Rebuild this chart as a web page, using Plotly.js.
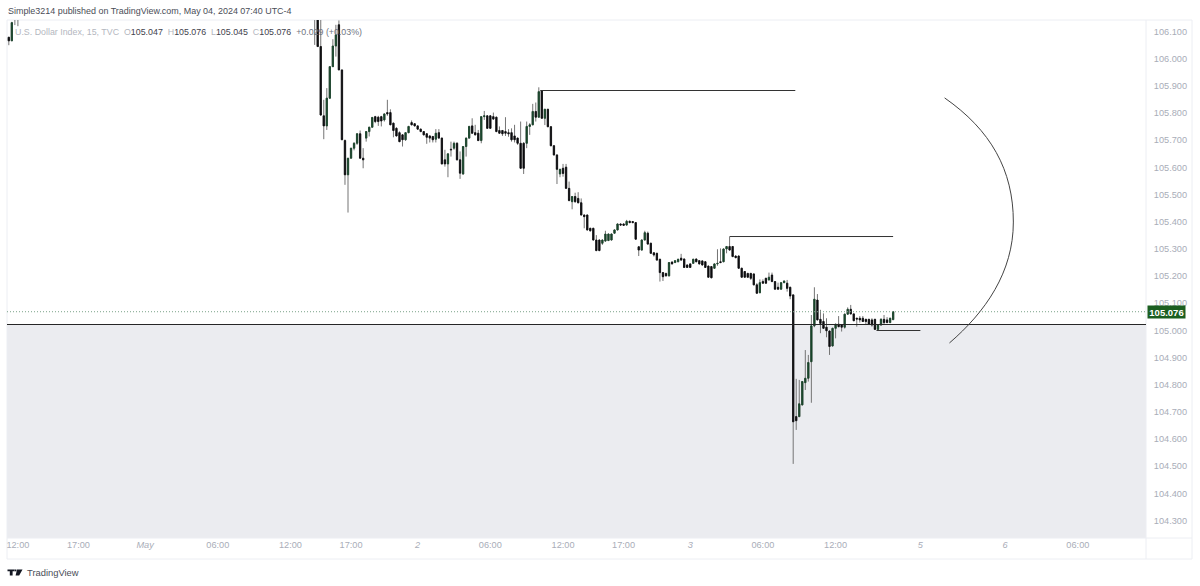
<!DOCTYPE html>
<html><head><meta charset="utf-8">
<script src="https://cdn.plot.ly/plotly-3.0.1.min.js"></script>
<style>html,body{margin:0;padding:0;background:#fff}#c{width:1200px;height:586px}</style>
</head><body><div id="c"></div>
<script>
// Left stub of the visible session (bars -101..-98), then bars 0..191 (15-minute slots)
const leftIndex=[-101,-100,-99,-98];
const leftOpen =[106.086,106.073,106.25,106.25];
const leftHigh =[106.088,106.143,106.30,106.30];
const leftLow  =[106.057,106.073,106.131,106.127];
const leftClose=[106.073,106.140,106.20,106.20];

const open=[106.30,106.30,106.052,105.797,105.760,105.862,105.978,106.054,106.132,105.966,
105.706,105.580,105.641,105.678,105.696,105.731,105.641,105.715,105.739,105.755,
105.794,105.792,105.794,105.782,105.809,105.809,105.770,105.751,105.735,105.727,
105.709,105.735,105.772,105.768,105.760,105.748,105.739,105.731,105.723,105.721,
105.711,105.735,105.715,105.635,105.620,105.674,105.678,105.696,105.635,105.583,
105.684,105.715,105.760,105.735,105.733,105.706,105.794,105.797,105.797,105.794,
105.792,105.743,105.743,105.739,105.735,105.735,105.723,105.715,105.696,105.696,
105.696,105.758,105.764,105.813,105.792,105.890,105.788,105.821,105.757,105.687,
105.653,105.583,105.604,105.608,105.530,105.481,105.500,105.493,105.477,105.432,
105.432,105.383,105.383,105.340,105.340,105.328,105.336,105.338,105.340,105.365,
105.377,105.399,105.399,105.395,105.409,105.408,105.404,105.315,105.303,105.340,
105.365,105.328,105.293,105.291,105.269,105.220,105.217,105.208,105.259,105.257,
105.260,105.273,105.270,105.248,105.252,105.254,105.270,105.264,105.263,105.260,
105.244,105.242,105.236,105.252,105.260,105.260,105.307,105.316,105.316,105.281,
105.281,105.236,105.224,105.217,105.217,105.215,105.175,105.146,105.187,105.199,
105.193,105.211,105.187,105.166,105.159,105.183,105.181,105.166,105.138,104.690,
104.690,104.733,104.815,104.831,104.892,105.024,105.119,105.048,105.040,105.019,
105.005,104.950,105.015,105.030,105.027,105.019,105.067,105.085,105.068,105.052,
105.052,105.052,105.048,105.048,105.046,105.048,105.011,105.027,105.048,105.046,
105.036,105.047];
const high=[106.35,106.35,106.25,105.856,105.899,105.980,106.079,106.132,106.148,105.966,
105.71,105.641,105.678,105.70,105.733,105.743,105.678,105.741,105.757,105.793,
105.797,105.797,105.797,105.806,105.856,105.821,105.772,105.755,105.74,105.73,
105.737,105.76,105.780,105.77,105.762,105.75,105.741,105.733,105.725,105.723,
105.748,105.748,105.717,105.672,105.659,105.702,105.702,105.70,105.666,105.686,
105.717,105.76,105.788,105.764,105.745,105.796,105.815,105.80,105.80,105.809,
105.794,105.758,105.745,105.792,105.748,105.751,105.764,105.717,105.776,105.70,
105.776,105.770,105.841,105.846,105.902,105.892,105.823,105.823,105.759,105.689,
105.655,105.602,105.620,105.620,105.555,105.502,105.514,105.516,105.493,105.434,
105.434,105.385,105.385,105.358,105.342,105.342,105.374,105.364,105.364,105.379,
105.401,105.401,105.401,105.414,105.411,105.41,105.406,105.318,105.342,105.374,
105.371,105.33,105.295,105.293,105.271,105.222,105.219,105.259,105.261,105.266,
105.271,105.289,105.272,105.25,105.254,105.271,105.272,105.266,105.265,105.262,
105.246,105.244,105.254,105.306,105.309,105.309,105.318,105.352,105.318,105.283,
105.283,105.238,105.226,105.219,105.219,105.217,105.181,105.195,105.195,105.201,
105.220,105.220,105.189,105.183,105.185,105.191,105.193,105.168,105.14,104.829,
104.825,104.821,104.935,104.917,105.064,105.166,105.141,105.083,105.070,105.052,
105.007,105.017,105.032,105.060,105.029,105.069,105.092,105.101,105.07,105.054,
105.060,105.06,105.05,105.05,105.052,105.05,105.029,105.052,105.064,105.056,
105.054,105.076];
const low=[106.058,106.052,105.797,105.711,105.745,105.860,105.978,106.015,105.966,105.709,
105.543,105.441,105.641,105.67,105.690,105.641,105.604,105.702,105.721,105.755,
105.770,105.760,105.758,105.776,105.797,105.764,105.718,105.721,105.70,105.684,
105.705,105.733,105.762,105.758,105.746,105.737,105.725,105.694,105.699,105.699,
105.699,105.713,105.618,105.610,105.571,105.647,105.672,105.633,105.565,105.58,
105.647,105.713,105.731,105.725,105.704,105.696,105.782,105.749,105.749,105.783,
105.737,105.731,105.723,105.723,105.72,105.702,105.699,105.690,105.602,105.583,
105.678,105.727,105.762,105.776,105.79,105.786,105.763,105.755,105.685,105.651,
105.546,105.571,105.573,105.528,105.483,105.453,105.477,105.475,105.430,105.383,
105.375,105.371,105.338,105.299,105.299,105.322,105.334,105.336,105.338,105.363,
105.375,105.393,105.392,105.393,105.402,105.402,105.341,105.281,105.301,105.338,
105.323,105.289,105.279,105.264,105.187,105.189,105.206,105.206,105.25,105.255,
105.258,105.264,105.237,105.237,105.237,105.252,105.258,105.25,105.246,105.237,
105.201,105.199,105.234,105.245,105.255,105.258,105.291,105.301,105.277,105.273,
105.234,105.201,105.201,105.201,105.193,105.173,105.142,105.144,105.179,105.179,
105.191,105.185,105.157,105.157,105.157,105.181,105.150,105.122,104.516,104.641,
104.688,104.731,104.788,104.819,104.741,105.019,105.044,104.997,105.013,104.982,
104.917,104.948,104.978,105.019,105.003,105.014,105.065,105.066,105.041,105.021,
105.036,105.038,105.027,105.027,105.021,105.009,105.006,105.025,105.027,105.034,
105.034,105.045];
const close=[106.25,106.052,105.800,105.760,105.862,105.978,106.054,106.095,105.966,105.709,
105.580,105.641,105.678,105.696,105.731,105.641,105.635,105.739,105.755,105.791,
105.776,105.776,105.778,105.804,105.804,105.764,105.743,105.723,105.702,105.709,
105.735,105.758,105.764,105.760,105.748,105.739,105.727,105.718,105.715,105.709,
105.733,105.715,105.620,105.620,105.657,105.672,105.696,105.635,105.586,105.684,
105.715,105.758,105.733,105.727,105.706,105.794,105.797,105.751,105.751,105.785,
105.739,105.733,105.731,105.733,105.731,105.709,105.709,105.696,105.604,105.604,
105.758,105.764,105.813,105.792,105.886,105.788,105.821,105.757,105.687,105.653,
105.600,105.600,105.585,105.530,105.485,105.500,105.481,105.477,105.432,105.426,
105.377,105.374,105.340,105.301,105.301,105.340,105.362,105.362,105.362,105.377,
105.399,105.395,105.394,105.409,105.404,105.404,105.343,105.303,105.340,105.367,
105.325,105.291,105.285,105.266,105.220,105.205,105.208,105.257,105.252,105.264,
105.269,105.266,105.239,105.239,105.239,105.269,105.260,105.252,105.248,105.239,
105.203,105.201,105.252,105.254,105.257,105.307,105.316,105.303,105.279,105.275,
105.236,105.203,105.203,105.203,105.199,105.175,105.144,105.183,105.181,105.181,
105.203,105.187,105.159,105.159,105.183,105.189,105.162,105.134,104.671,104.675,
104.737,104.819,104.831,104.889,105.024,105.122,105.046,105.033,105.015,105.006,
104.948,105.015,105.030,105.021,105.019,105.067,105.085,105.068,105.043,105.049,
105.046,105.040,105.040,105.031,105.027,105.011,105.027,105.048,105.036,105.036,
105.052,105.076];

const tickIndex=[-98,-78,-56,-32,-8,12,34,58,82,102,124,148,172,200,228,252];
const tickLabels=['12:00','17:00','<i>May</i>','06:00','12:00','17:00','<i>2</i>','06:00','12:00','17:00','<i>3</i>','06:00','12:00','<i>5</i>','<i>6</i>','06:00'];
const priceTicks=[106.1,106.0,105.9,105.8,105.7,105.6,105.5,105.4,105.3,105.2,105.1,105.0,104.9,104.8,104.7,104.6,104.5,104.4,104.3];

const X=leftIndex.concat(open.map((_,i)=>i));
const O=leftOpen.concat(open),H=leftHigh.concat(high),L=leftLow.concat(low),C=leftClose.concat(close);
const bodyHi=O.map((v,i)=>Math.max(v,C[i])),bodyLo=O.map((v,i)=>Math.min(v,C[i]));

const W=1139,Ht=518,PL=7,PT=20;
const px=x=>(x-PL)/W, py=y=>1-(y-PT)/Ht;
const upC='#17452a',dnC='#0b0b0f',wick='#747474',lineC='#333333',frame='#eceef3',axisTxt='#a9adb8';
const sans='"Liberation Sans",Arial,sans-serif';

const wicks={type:'candlestick',x:X,open:O,high:H,low:L,close:C,whiskerwidth:0,hoverinfo:'skip',
 increasing:{line:{color:wick,width:1},fillcolor:wick},decreasing:{line:{color:wick,width:1},fillcolor:wick}};
const bodies={type:'candlestick',x:X,open:O,high:bodyHi,low:bodyLo,close:C,whiskerwidth:0,hoverinfo:'skip',
 increasing:{line:{color:upC,width:0.7},fillcolor:upC},decreasing:{line:{color:dnC,width:0.7},fillcolor:dnC}};

const frameLine=(x0,y0,x1,y1)=>({type:'line',xref:'paper',yref:'paper',x0:px(x0),x1:px(x1),y0:py(y0),y1:py(y1),line:{color:frame,width:1},layer:'below'});
const seg=(x0,x1,p)=>({type:'line',xref:'x',yref:'y',x0,x1,y0:p,y1:p,line:{color:lineC,width:1}});
const logoPath=pts=>'M '+pts.map(p=>px(p[0])+' '+py(p[1])).join(' L ')+' Z';
const logo=pts=>({type:'path',xref:'paper',yref:'paper',path:logoPath(pts),fillcolor:'#131722',line:{width:0}});

const shapes=[
 {type:'rect',xref:'paper',yref:'y',x0:0,x1:1,y0:104.2,y1:105.029,fillcolor:'#ebecf0',line:{width:0},layer:'below'},
 {type:'line',xref:'paper',yref:'y',x0:0,x1:1,y0:105.076,y1:105.076,line:{color:'#7aa288',width:1,dash:'1px,2px'},layer:'above'},
 {type:'line',xref:'paper',yref:'y',x0:0,x1:1,y0:105.029,y1:105.029,line:{color:'#262626',width:1}},
 seg(74.5,158.7,105.8902),seg(137,191,105.3528),seg(185.5,200,105.0069),
 {type:'path',xref:'x',yref:'y',path:'M 208 105.863 C 223.2 105.745 230.7 105.598 230.7 105.406 C 230.7 105.222 221.5 105.075 209.6 104.961',line:{color:'#444',width:1}},
 frameLine(7,20,1192,20),frameLine(7,20,7,559),frameLine(1192,20,1192,559),frameLine(1146,20,1146,559),frameLine(7,538,1192,538),frameLine(7,559,1192,559),
 logo([[7.5,569.5],[14.5,569.5],[14.5,571.3],[12.6,571.3],[12.6,575.5],[9.8,575.5],[9.8,571.3],[7.5,571.3]]),
 logo([[17,569.5],[22.5,569.5],[19.2,575.5],[15.6,575.5]]),
 logo([[14.6,569.5],[16.4,569.5],[16.4,571.3],[14.6,571.3]])
];
const note=(t,x,y,size,color,extra)=>Object.assign({xref:'paper',yref:'paper',x:px(x),y:py(y),text:t,showarrow:false,xanchor:'left',yanchor:'middle',font:{size,color,family:sans}},extra||{});
const lg='#b4b7c0',dk='#3f424d';
const s=(t,c)=>'<span style="color:'+c+'">'+t+'</span>';
const annotations=[
 note('Simple3214 published on TradingView.com, May 04, 2024 07:40 UTC-4',6,11,8.95,'#4a4d57'),
 note(s('U.S. Dollar Index, 15, TVC',lg)+'  '+s('O',lg)+s('105.047',dk)+'  '+s('H',lg)+s('105.076',dk)+'  '+s('L',lg)+s('105.045',dk)+'  '+s('C',lg)+s('105.076',dk)+'  '+s('+0.029 (+0.03%)','#6f7480'),13,31.5,8.85,dk),
 note('TradingView',25,572.5,9.4,'#4a4d57'),
 {xref:'paper',yref:'y',x:px(1147),y:105.076,text:'<b>105.076</b>',showarrow:false,xanchor:'left',yanchor:'middle',bgcolor:'#1b5e20',width:37,height:12,borderpad:0,align:'center',font:{size:9.5,color:'#fff',family:sans}}
];
const layout={width:1200,height:586,margin:{l:7,r:54,t:20,b:48,pad:0},paper_bgcolor:'#fff',plot_bgcolor:'#fff',showlegend:false,
 boxgap:0.4,
 xaxis:{type:'linear',range:[-101.6,274.5],rangeslider:{visible:false},tickmode:'array',tickvals:tickIndex,ticktext:tickLabels,showgrid:false,zeroline:false,showline:false,ticks:'',tickangle:0,
  tickfont:{size:9.2,color:axisTxt,family:sans},automargin:false},
 yaxis:{side:'right',range:[104.2432,106.1497],tickmode:'array',tickvals:priceTicks,ticktext:priceTicks.map(v=>v.toFixed(3)),showgrid:false,zeroline:false,showline:false,ticks:'outside',ticklen:5,tickcolor:'rgba(0,0,0,0)',ticklabelshift:-2,
  tickfont:{size:9.2,color:axisTxt,family:sans},automargin:false},
 shapes,annotations};
Plotly.newPlot('c',[wicks,bodies],layout,{displayModeBar:false,staticPlot:true});
</script></body></html>
